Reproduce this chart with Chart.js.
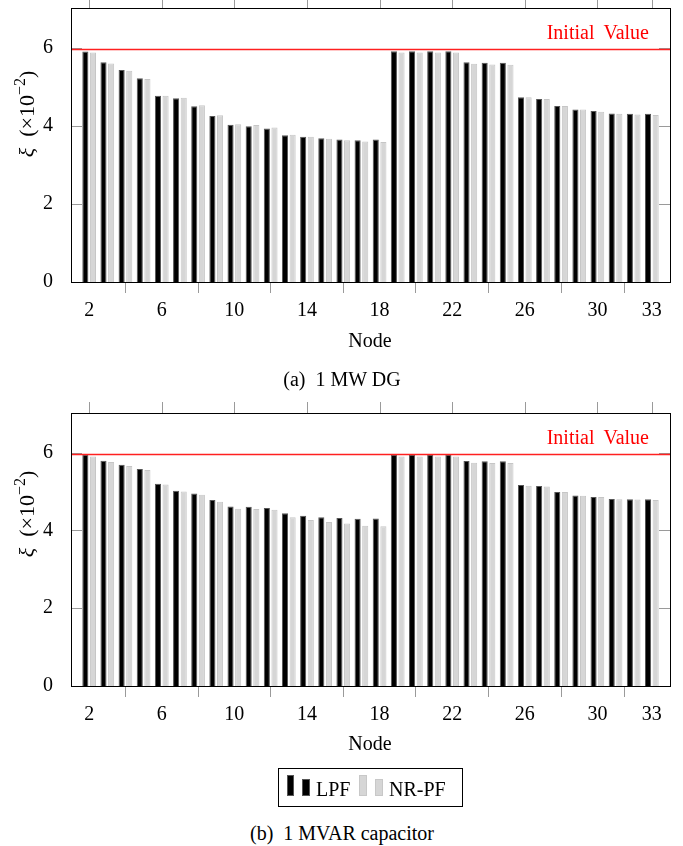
<!DOCTYPE html>
<html><head><meta charset="utf-8">
<script src="https://cdn.jsdelivr.net/npm/chart.js@4.4.1/dist/chart.umd.min.js"></script>
<style>
body{margin:0;background:#fff;width:683px;height:846px;position:relative;overflow:hidden;font-family:"Liberation Serif","Times New Roman",serif;}
.cv{position:absolute;left:0;}
.t{position:absolute;font-size:20px;line-height:20px;white-space:nowrap;color:#000;}
.ctr{transform:translateX(-50%);}
.ic{position:absolute;box-sizing:border-box;}
</style></head><body>
<div class="cv" style="top:0;"><canvas id="c1" width="683" height="330"></canvas></div>
<div class="cv" style="top:400px;"><canvas id="c2" width="683" height="334"></canvas></div>

<div class="t ctr" style="left:370px;top:330px;">Node</div>
<div class="t ctr" style="left:370px;top:733px;">Node</div>
<div class="t ctr" style="left:342px;top:369px;">(a)&nbsp; 1 MW DG</div>
<div class="t ctr" style="left:342px;top:823px;">(b)&nbsp; 1 MVAR capacitor</div>

<div style="position:absolute;left:278px;top:768px;width:183px;height:37px;border:1px solid #000;"></div>
<div class="ic" style="left:287px;top:775px;width:7px;height:21px;background:#000;border:1px solid #555;"></div>
<div class="ic" style="left:302px;top:779px;width:8px;height:17px;background:#000;border:1px solid #555;"></div>
<div class="t" style="left:316px;top:779px;">LPF</div>
<div class="ic" style="left:359px;top:775px;width:8px;height:21px;background:#d6d6d6;border:1px solid #c8c8c8;"></div>
<div class="ic" style="left:375px;top:779px;width:8px;height:17px;background:#d6d6d6;border:1px solid #c8c8c8;"></div>
<div class="t" style="left:389px;top:779px;">NR-PF</div>

<script>
const nodes = [2,3,4,5,6,7,8,9,10,11,12,13,14,15,16,17,18,19,20,21,22,23,24,25,26,27,28,29,30,31,32,33];
const xTicks = [2,6,10,14,18,22,26,30,33];
const yTicks = [0,2,4,6];
const initialValue = 5.97;

const dgLPF = [5.905,5.63,5.43,5.22,4.77,4.71,4.50,4.25,4.03,3.99,3.93,3.76,3.72,3.68,3.65,3.63,3.65,
               5.915,5.915,5.915,5.915,5.63,5.615,5.615,4.735,4.69,4.51,4.42,4.38,4.32,4.31,4.31];
const dgNR  = [5.88,5.60,5.41,5.20,4.77,4.72,4.53,4.27,4.04,4.02,3.96,3.77,3.72,3.67,3.63,3.60,3.59,
               5.88,5.88,5.88,5.88,5.59,5.57,5.565,4.735,4.69,4.51,4.42,4.36,4.31,4.29,4.28];
const capLPF = [5.95,5.795,5.69,5.58,5.20,5.02,4.95,4.78,4.615,4.61,4.58,4.44,4.38,4.34,4.32,4.30,4.31,
                5.95,5.95,5.95,5.95,5.785,5.78,5.78,5.17,5.145,4.99,4.90,4.86,4.81,4.80,4.80];
const capNR  = [5.90,5.76,5.66,5.555,5.18,5.00,4.92,4.74,4.56,4.55,4.53,4.34,4.27,4.22,4.18,4.12,4.11,
                5.90,5.90,5.90,5.90,5.74,5.735,5.735,5.15,5.13,4.99,4.89,4.86,4.80,4.795,4.78];

const FONT = '"Liberation Serif","Times New Roman",serif';
const TICKC = '#9a9a9a';

function drawYTitle(ctx, cx, cy) {
  const parts = [
    {t: 'ξ', f: 'italic 22px ' + FONT, dy: 0},
    {t: '\u2002(×10', f: '22px ' + FONT, dy: 0},
    {t: '−2', f: '16px ' + FONT, dy: -9},
    {t: ')', f: '22px ' + FONT, dy: 0}
  ];
  let total = 0;
  parts.forEach(p => { ctx.font = p.f; p.w = ctx.measureText(p.t).width; total += p.w; });
  ctx.save();
  ctx.translate(cx, cy);
  ctx.rotate(-Math.PI / 2);
  ctx.fillStyle = '#000';
  ctx.textBaseline = 'alphabetic';
  ctx.textAlign = 'left';
  let x = -total / 2;
  parts.forEach(p => { ctx.font = p.f; ctx.fillText(p.t, x, 7 + p.dy); x += p.w; });
  ctx.restore();
}

const framePlugin = {
  id: 'frame',
  afterDatasetsDraw(chart) {
    const {ctx, chartArea: a, scales: {x, y}} = chart;
    ctx.save();
    const line = (x1, y1, x2, y2) => { ctx.beginPath(); ctx.moveTo(x1, y1); ctx.lineTo(x2, y2); ctx.stroke(); };
    ctx.lineWidth = 1;
    ctx.strokeStyle = TICKC;
    yTicks.forEach(v => {
      const py = Math.round(y.getPixelForValue(v)) + 0.5;
      line(a.left, py, a.left + 11, py);
      line(a.right - 11, py, a.right, py);
    });
    xTicks.forEach(v => {
      const px = Math.round(x.getPixelForValue(v)) + 0.5;
      line(px, a.top - 11, px, a.top);
    });
    const ly = Math.round(y.getPixelForValue(initialValue)) + 0.5;
    ctx.strokeStyle = '#ff2020';
    ctx.lineWidth = 1.3;
    line(a.left, ly, a.right, ly);
    ctx.fillStyle = '#ff0000';
    ctx.font = '20px ' + FONT;
    ctx.textAlign = 'right';
    ctx.textBaseline = 'alphabetic';
    ctx.fillText('Initial\u2009 Value', a.right - 21, ly - 11);
    ctx.lineWidth = 1;
    ctx.strokeStyle = '#000';
    ctx.strokeRect(Math.round(a.left) + 0.5, Math.round(a.top) + 0.5, Math.round(a.right - a.left), Math.round(a.bottom - a.top));
    ctx.restore();
    drawYTitle(ctx, 27, chart.options.plugins.frame.titleY);
  }
};

function makeChart(id, lpf, nr, topPad, titleY) {
  const toXY = arr => nodes.map((n, i) => ({x: n, y: arr[i]}));
  return new Chart(document.getElementById(id), {
    type: 'bar',
    data: {
      datasets: [
        {label: 'LPF', data: toXY(lpf), backgroundColor: '#000000', borderColor: '#555555', borderWidth: 1,
         categoryPercentage: 0.84, barPercentage: 0.8},
        {label: 'NR-PF', data: toXY(nr), backgroundColor: '#d6d6d6', borderColor: '#c6c6c6', borderWidth: 1,
         categoryPercentage: 0.84, barPercentage: 0.8}
      ]
    },
    options: {
      responsive: false,
      animation: false,
      layout: {padding: {top: topPad, right: 13, left: 0, bottom: 0}},
      plugins: {legend: {display: false}, tooltip: {enabled: false}, frame: {titleY: titleY}},
      scales: {
        x: {
          type: 'linear', min: 1, max: 34, offset: false,
          afterBuildTicks: s => { s.ticks = xTicks.map(v => ({value: v})); },
          afterFit: s => { s.height = 48; s.paddingLeft = 0; s.paddingRight = 0; },
          grid: {drawOnChartArea: false, drawTicks: true, tickLength: 11, color: TICKC},
          border: {display: false},
          ticks: {color: '#000', font: {family: FONT, size: 20}, padding: 6, maxRotation: 0, autoSkip: false}
        },
        y: {
          min: 0, max: 7.02,
          afterBuildTicks: s => { s.ticks = yTicks.map(v => ({value: v})); },
          afterFit: s => { s.width = 71; s.paddingTop = 0; s.paddingBottom = 0; },
          grid: {display: false},
          border: {display: false},
          ticks: {color: '#000', font: {family: FONT, size: 20}, padding: 10}
        }
      }
    },
    plugins: [framePlugin]
  });
}

makeChart('c1', dgLPF, dgNR, 8, 114);
makeChart('c2', capLPF, capNR, 13, 114);
</script>
</body></html>
